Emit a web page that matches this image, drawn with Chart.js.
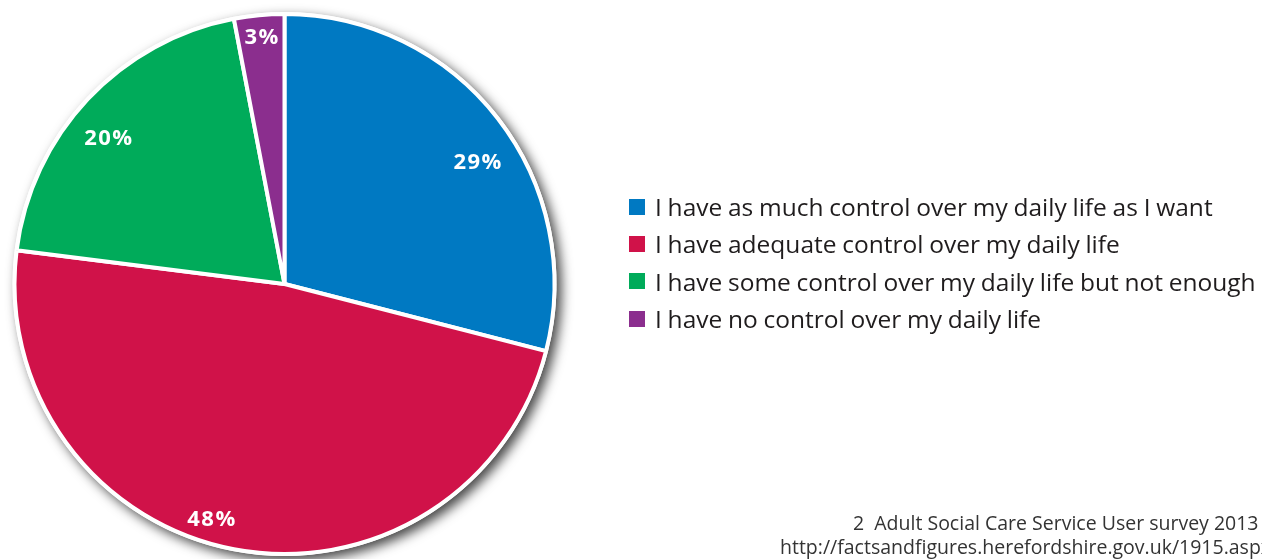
<!DOCTYPE html>
<html>
<head>
<meta charset="utf-8">
<script src="https://cdn.jsdelivr.net/npm/chart.js@4/dist/chart.umd.min.js"></script>
<style>
  html, body { margin: 0; padding: 0; background: #fff; overflow: hidden; }
  #wrap { position: relative; width: 1262px; height: 559px; overflow: hidden; background: #fff; }
  #pie { position: absolute; left: 0; top: 0; }
  #legend { position: absolute; left: 629px; top: 188px; margin: 0; padding: 0; list-style: none;
            font-family: "Open Sans", sans-serif; font-size: 24.5px; letter-spacing: 0; word-spacing: -0.6px;
            color: #1f1c1d; }
  #legend li { display: flex; align-items: center; height: 37.3px; white-space: nowrap; }
  #legend .box { width: 16px; height: 16px; margin-right: 10px; flex: none; }
  .note { position: absolute; font-family: "Open Sans", sans-serif; font-size: 19.5px; line-height: 1.362;
          color: #333; white-space: nowrap; }
</style>
</head>
<body>
<div id="wrap">
  <canvas id="pie" width="1262" height="559"></canvas>
  <ul id="legend"></ul>
  <div class="note" style="left:853px; top:510px;">2&nbsp; Adult Social Care Service User survey 2013</div>
  <div class="note" style="left:780px; top:534px;">http://factsandfigures.herefordshire.gov.uk/1915.aspx</div>
</div>
<script>
// Survey responses: how much control people feel they have over daily life (%)
const categories = [
  "I have as much control over my daily life as I want",
  "I have adequate control over my daily life",
  "I have some control over my daily life but not enough",
  "I have no control over my daily life"
];
const shares = [29, 48, 20, 3];
const sliceColours = ["#0079c2", "#d01249", "#00ab5a", "#8b2e8e"];

// Where each percentage sits inside its slice: angular nudge (degrees) and fraction of the radius
const labelPlacement = [
  { turn: 5.4, dist: 0.845 },
  { turn: 6.6, dist: 0.91 },
  { turn: -3.5, dist: 0.85 },
  { turn: 0, dist: 0.92 }
];

// Soft drop shadow behind the whole pie, drawn before the slices
const pieShadow = {
  id: 'pieShadow',
  beforeDatasetsDraw(chart) {
    const arc = chart.getDatasetMeta(0).data[0];
    if (!arc) return;
    const { x, y, outerRadius } = arc.getProps(['x', 'y', 'outerRadius'], true);
    const ctx = chart.ctx;
    ctx.save();
    ctx.shadowColor = 'rgba(0,0,0,0.72)';
    ctx.shadowBlur = 12;
    ctx.shadowOffsetX = 5;
    ctx.shadowOffsetY = 5;
    ctx.fillStyle = '#ffffff';
    ctx.beginPath();
    ctx.arc(x, y, outerRadius + 2, 0, Math.PI * 2);
    ctx.fill();
    ctx.restore();
  }
};

// White percentage labels inside each slice
const sliceLabels = {
  id: 'sliceLabels',
  afterDatasetsDraw(chart) {
    const ctx = chart.ctx;
    const meta = chart.getDatasetMeta(0);
    const values = chart.data.datasets[0].data;
    ctx.save();
    ctx.font = 'bold 22px "Open Sans", sans-serif';
    ctx.letterSpacing = '1.5px';
    ctx.fillStyle = '#ffffff';
    ctx.textAlign = 'center';
    ctx.textBaseline = 'middle';
    meta.data.forEach((arc, i) => {
      const p = arc.getProps(['x', 'y', 'startAngle', 'endAngle', 'outerRadius'], true);
      const place = labelPlacement[i];
      const mid = (p.startAngle + p.endAngle) / 2 + place.turn * Math.PI / 180;
      const r = p.outerRadius * place.dist;
      ctx.fillText(values[i] + '%', p.x + Math.cos(mid) * r + 1, p.y + Math.sin(mid) * r + 1);
    });
    ctx.restore();
  }
};

// Legend list built from the chart's own labels and slice colours
const htmlLegend = {
  id: 'htmlLegend',
  afterUpdate(chart) {
    const list = document.getElementById('legend');
    list.innerHTML = '';
    const colours = chart.data.datasets[0].backgroundColor;
    chart.data.labels.forEach((label, i) => {
      const li = document.createElement('li');
      const box = document.createElement('span');
      box.className = 'box';
      box.style.background = colours[i];
      const text = document.createElement('span');
      text.textContent = label;
      li.appendChild(box);
      li.appendChild(text);
      list.appendChild(li);
    });
  }
};

new Chart(document.getElementById('pie'), {
  type: 'pie',
  data: {
    labels: categories,
    datasets: [{
      data: shares,
      backgroundColor: sliceColours,
      borderColor: '#ffffff',
      borderWidth: 4,
      hoverOffset: 0,
      clip: false
    }]
  },
  options: {
    responsive: false,
    animation: false,
    events: [],
    layout: { padding: { left: 12, top: 12, right: 705, bottom: 3 } },
    plugins: {
      legend: { display: false },
      tooltip: { enabled: false }
    }
  },
  plugins: [pieShadow, sliceLabels, htmlLegend]
});
</script>
</body>
</html>
